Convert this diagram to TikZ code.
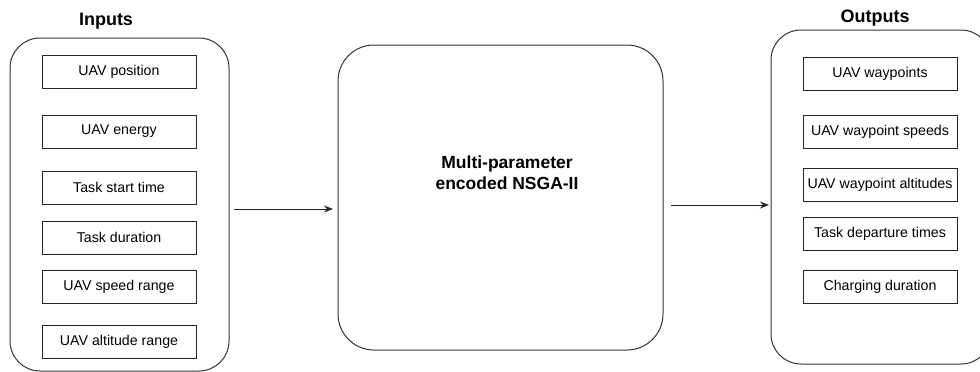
\documentclass[tikz,border=0pt]{standalone}
\usepackage{fontspec}
\setmainfont{Liberation Sans}
\usetikzlibrary{arrows.meta}
\begin{document}
\begin{tikzpicture}[x=1pt,y=-1pt,
  every node/.style={inner sep=0pt, outer sep=0pt},
  container/.style={draw=black!80, line width=1pt, rounded corners=30pt, anchor=north west},
  item/.style={draw=black!85, line width=1pt, minimum width=154pt, minimum height=33pt, font=\fontsize{14.2}{16}\selectfont},
  title/.style={font=\fontsize{18}{21}\selectfont\bfseries},
  conn/.style={draw=black!85, line width=1pt, -{Stealth[length=9pt,width=7pt]}}
]
\useasboundingbox (0,0) rectangle (980,372);
\begin{scope}
\clip (0,0) rectangle (980,372);
% containers
\node[container, minimum width=219pt, minimum height=333pt] (inbox) at (10,38) {};
\node[container, rounded corners=36pt, minimum width=325pt, minimum height=305pt] (mid) at (338,45) {};
\node[container, minimum width=220pt, minimum height=334pt] (outbox) at (771,30) {};
\end{scope}
% titles
\node[title] (intitle) at (106,21) {Inputs};
\node[title] (outtitle) at (875,18) {Outputs};
% middle text
\node[align=center, font=\fontsize{17.5}{21}\selectfont\bfseries] (midtext) at (507,173) {Multi-parameter\\encoded NSGA-II};
% inputs
\node[item] (i1) at (119,71.5) {UAV position};
\node[item] (i2) at (119,131.5) {UAV energy};
\node[item] (i3) at (119,187.5) {Task start time};
\node[item] (i4) at (119,237.5) {Task duration};
\node[item] (i5) at (119,287) {UAV speed range};
\node[item] (i6) at (119,341.5) {UAV altitude range};
% outputs
\node[item] (o1) at (880,74) {UAV waypoints};
\node[item] (o2) at (880,131.5) {UAV waypoint speeds};
\node[item] (o3) at (880,185) {UAV waypoint altitudes};
\node[item] (o4) at (880,233.5) {Task departure times};
\node[item] (o5) at (880,287) {Charging duration};
% connectors
\coordinate (a1s) at (234,209);
\coordinate (a2s) at (671,205);
\draw[conn, shorten >=5pt] (a1s) -- (mid.west |- a1s);
\draw[conn, shorten >=2pt] (a2s) -- (outbox.west |- a2s);
\end{tikzpicture}
\end{document}
